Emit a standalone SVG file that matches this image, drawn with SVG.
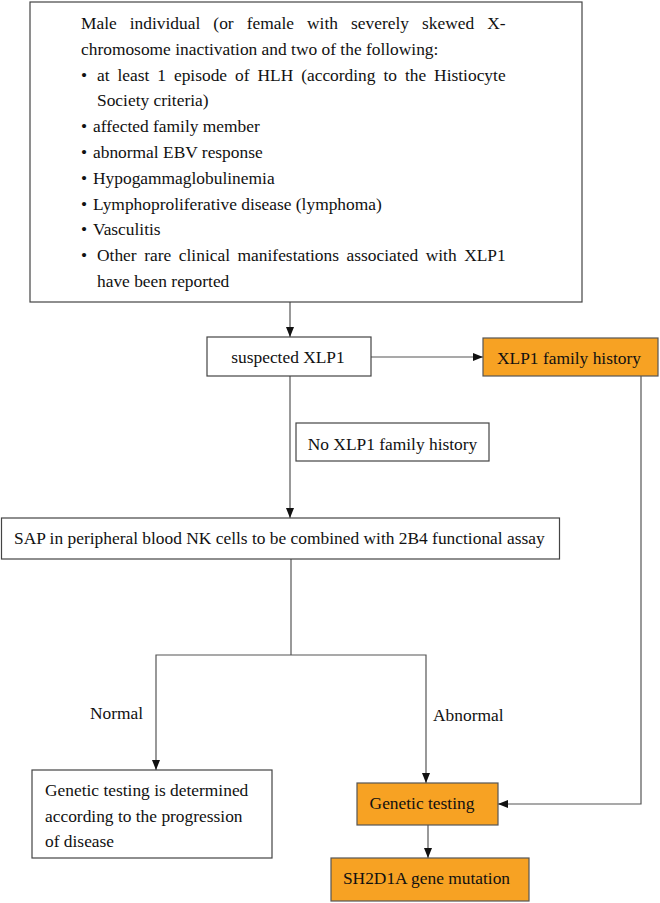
<svg xmlns="http://www.w3.org/2000/svg" width="660" height="903" viewBox="0 0 660 903">
<defs>
<style>
.box{fill:#fff;stroke:#444;stroke-width:1.2}
.obox{fill:#F7A223;stroke:#555;stroke-width:1.2}
text{font-family:'Liberation Serif','Times New Roman','DejaVu Serif',serif;font-size:17.4px;fill:#111}
.c{text-anchor:middle}
.ln{fill:none;stroke:#555;stroke-width:1.2}
</style>
<marker id="ah" viewBox="0 0 10 10" refX="10" refY="5" markerWidth="10" markerHeight="10" markerUnits="userSpaceOnUse" orient="auto">
<path d="M0,1 L10,5 L0,9 z" fill="#111"/>
</marker>
</defs>
<rect width="660" height="903" fill="#fff"/>

<g id="connectors">
<line class="ln" x1="290" y1="302" x2="290" y2="337" marker-end="url(#ah)"/>
<line class="ln" x1="371" y1="357" x2="483" y2="357" marker-end="url(#ah)"/>
<line class="ln" x1="290" y1="376" x2="290" y2="518" marker-end="url(#ah)"/>
<line class="ln" x1="291" y1="559" x2="291" y2="655"/>
<polyline class="ln" points="291,655 156,655 156,770" marker-end="url(#ah)"/>
<polyline class="ln" points="291,655 426,655 426,783" marker-end="url(#ah)"/>
<polyline class="ln" points="641,376 641,804 498,804" marker-end="url(#ah)"/>
<line class="ln" x1="428" y1="825" x2="428" y2="858" marker-end="url(#ah)"/>
<text x="90" y="719">Normal</text>
<text x="433" y="721">Abnormal</text>
</g>

<g id="criteria">
<rect class="box" x="30" y="2" width="552" height="300"/>
<text x="81" y="29" style="word-spacing:8.7px">Male individual (or female with severely skewed X-</text>
<text x="81" y="55">chromosome inactivation and two of the following:</text>
<text x="81" y="81">•</text>
<text x="97" y="81" style="word-spacing:3.6px">at least 1 episode of HLH (according to the Histiocyte</text>
<text x="97" y="106">Society criteria)</text>
<text x="81" y="132">•</text>
<text x="93" y="132">affected family member</text>
<text x="81" y="158">•</text>
<text x="93" y="158">abnormal EBV response</text>
<text x="81" y="184">•</text>
<text x="93" y="184">Hypogammaglobulinemia</text>
<text x="81" y="210">•</text>
<text x="93" y="210">Lymphoproliferative disease (lymphoma)</text>
<text x="81" y="235">•</text>
<text x="93" y="235">Vasculitis</text>
<text x="81" y="261">•</text>
<text x="97" y="261" style="word-spacing:3.25px">Other rare clinical manifestations associated with XLP1</text>
<text x="97" y="287">have been reported</text>
</g>

<g id="suspected">
<rect class="box" x="207" y="337" width="164" height="39"/>
<text class="c" x="288" y="363">suspected XLP1</text>
</g>

<g id="family-history">
<rect class="obox" x="483" y="338" width="175" height="38"/>
<text class="c" x="569" y="364">XLP1 family history</text>
</g>

<g id="no-family-history">
<rect class="box" x="296" y="423" width="193" height="38"/>
<text class="c" x="392.5" y="450">No XLP1 family history</text>
</g>

<g id="sap">
<rect class="box" x="1.5" y="518" width="558" height="41"/>
<text x="14" y="544">SAP in peripheral blood NK cells to be combined with 2B4 functional assay</text>
</g>

<g id="normal-result">
<rect class="box" x="32" y="770" width="240" height="88"/>
<text x="45" y="796">Genetic testing is determined</text>
<text x="45" y="822">according to the progression</text>
<text x="45" y="847">of disease</text>
</g>

<g id="genetic-testing">
<rect class="obox" x="357" y="783" width="141" height="42"/>
<text class="c" x="422" y="809">Genetic testing</text>
</g>

<g id="mutation">
<rect class="obox" x="331" y="858" width="198" height="43"/>
<text class="c" x="426.5" y="884">SH2D1A gene mutation</text>
</g>
</svg>
